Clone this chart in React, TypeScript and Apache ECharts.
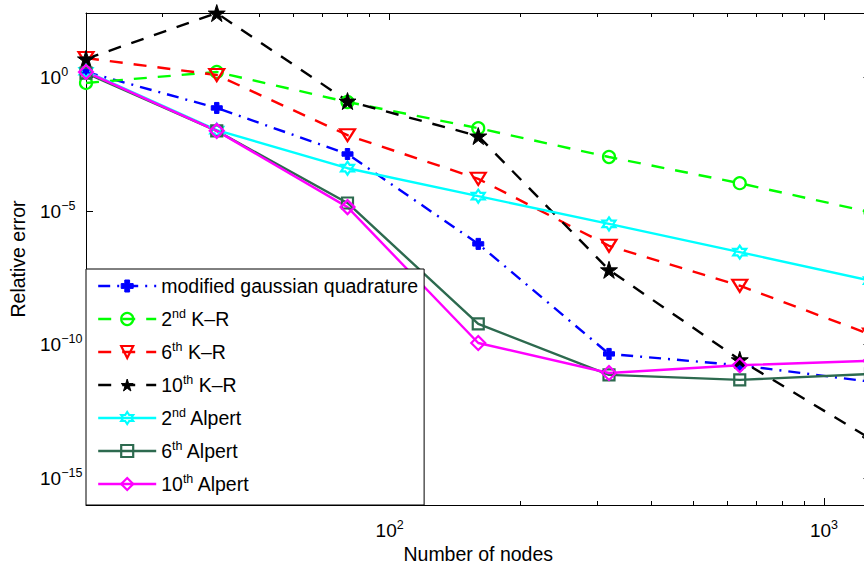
import React, { useEffect, useRef } from 'react';
import * as echarts from 'echarts';

// ---- data ----
const NODES = [20, 40, 80, 160, 320, 640, 1280];
const MODIFIED_GAUSS = [1.6, 0.072, 1.36e-3, 5.9e-7, 4.5e-11, 1.7e-11, 4.1e-12];
const KR_2ND = [0.62, 1.6, 0.12, 0.0126, 1.05e-3, 1.1e-4, 9e-6];
const KR_6TH = [5.3, 1.23, 6.9e-3, 1.6e-4, 5e-7, 1.6e-8, 2.4e-10];
const KR_10TH = [4.9, 255, 0.13, 6.4e-3, 6.3e-8, 2.7e-11, 3e-14];
const ALPERT_2ND = [1.7, 0.0107, 4e-4, 3.6e-5, 3.3e-6, 2.9e-7, 2.5e-8];
const ALPERT_6TH = [1.45, 0.01, 2e-5, 6e-10, 7.4e-12, 4.8e-12, 8e-12];
const ALPERT_10TH = [1.6, 0.01, 1.4e-5, 1.15e-10, 8.7e-12, 1.7e-11, 2.5e-11];

const SERIES_NAMES = [
  'modified gaussian quadrature',
  '2nd K\u2013R',
  '6th K\u2013R',
  '10th K\u2013R',
  '2nd Alpert',
  '6th Alpert',
  '10th Alpert',
];
const X_MAJOR_TICKS = [100, 1000];
const X_MINOR_TICKS = [30, 40, 50, 60, 70, 80, 90, 200, 300, 400, 500, 600, 700, 800, 900];
const Y_TICKS = [1e-15, 1e-10, 1e-5, 1];
const X_MIN = 20;
const X_MAX = 1280;
const Y_MIN = 1e-16;
const Y_MAX = 257;

const FONT = "'Liberation Sans', Arial, Helvetica, sans-serif";
const SUP = { fontSize: 12.5, lineHeight: 10, verticalAlign: 'top', fontFamily: FONT, color: '#000' };

const PLUS = 'path://M30,0H70V30H100V70H70V100H30V70H0V30H30Z';
const PENTAGRAM =
  'path://M100,0L122.45,69.1L195.11,69.1L136.33,111.8L158.78,180.9L100,138.2L41.22,180.9L63.67,111.8L4.89,69.1L77.55,69.1Z';
const HEXAGRAM =
  'path://M100,0L128.87,50L186.6,50L157.7,100L186.6,150L128.87,150L100,200L71.13,150L13.4,150L42.3,100L13.4,50L71.13,50Z';

const supLabel = (v: number) => {
  const e = Math.round(Math.log10(v));
  return `10{sup|${e < 0 ? '\u2212' + -e : e}}`;
};

const axisLineStyle = { color: '#000', width: 1 };

type Spec = {
  data: number[];
  color: string;
  dash: any;
  symbol: string;
  size: any;
  filled: boolean;
  rotate?: number;
};

const SPECS: Spec[] = [
  { data: MODIFIED_GAUSS, color: '#0000ff', dash: [12, 7, 2, 7], symbol: PLUS, size: 11, filled: true },
  { data: KR_2ND, color: '#00ff00', dash: [13, 11], symbol: 'circle', size: 12, filled: false },
  { data: KR_6TH, color: '#ff0000', dash: [13, 11], symbol: 'triangle', size: [15, 12], filled: false, rotate: 180 },
  { data: KR_10TH, color: '#000000', dash: [13, 11], symbol: PENTAGRAM, size: 17, filled: true },
  { data: ALPERT_2ND, color: '#00ffff', dash: 'solid', symbol: HEXAGRAM, size: 13, filled: false },
  { data: ALPERT_6TH, color: '#2d6a4f', dash: 'solid', symbol: 'rect', size: 11, filled: false },
  { data: ALPERT_10TH, color: '#ff00ff', dash: 'solid', symbol: 'diamond', size: 14, filled: false },
];

const LINE_W = 2.4;

function buildOption() {
  const series = SPECS.map((s, i) => ({
    name: SERIES_NAMES[i],
    type: 'line',
    xAxisIndex: 0,
    yAxisIndex: 0,
    data: NODES.map((n, k) => [n, s.data[k]]),
    symbol: s.symbol,
    symbolSize: s.size,
    symbolRotate: s.rotate || 0,
    showAllSymbol: true,
    silent: true,
    emphasis: { disabled: true },
    lineStyle: { color: s.color, width: LINE_W, type: s.dash },
    itemStyle: {
      color: s.filled ? s.color : 'rgba(255,255,255,0)',
      borderColor: s.color,
      borderWidth: s.filled ? 1 : 2.2,
    },
  }));

  const legendData = SPECS.map((s, i) => ({
    name: SERIES_NAMES[i],
    itemStyle: {
      color: s.filled ? s.color : 'rgba(255,255,255,0)',
      borderColor: s.color,
      borderWidth: s.filled ? 1 : 2.2,
    },
    lineStyle: { color: s.color, width: LINE_W, type: s.dash },
  }));

  const xBase = {
    type: 'log',
    logBase: 10,
    min: X_MIN,
    max: X_MAX,
    gridIndex: 0,
    splitLine: { show: false },
    minorTick: { show: false },
    minorSplitLine: { show: false },
  };
  const yBase = {
    type: 'log',
    logBase: 10,
    min: Y_MIN,
    max: Y_MAX,
    gridIndex: 0,
    splitLine: { show: false },
    minorTick: { show: false },
    minorSplitLine: { show: false },
  };
  const labelStyle = {
    color: '#000',
    fontSize: 19,
    lineHeight: 24,
    fontFamily: FONT,
    rich: { sup: SUP },
  };
  const nameStyle = { color: '#000', fontSize: 19.5, fontFamily: FONT };

  return {
    animation: false,
    backgroundColor: '#fff',
    grid: { left: 86, top: 13, width: 784.5, height: 492, containLabel: false, outerBoundsMode: 'none' },
    xAxis: [
      {
        ...xBase,
        position: 'bottom',
        axisLine: { show: true, onZero: false, lineStyle: axisLineStyle },
        axisTick: { show: true, inside: true, length: 4, customValues: X_MINOR_TICKS, lineStyle: axisLineStyle },
        axisLabel: { show: true, customValues: X_MAJOR_TICKS, formatter: supLabel, margin: 13, ...labelStyle },
        name: 'Number of nodes',
        nameLocation: 'middle',
        nameGap: 39,
        nameMoveOverlap: false,
        nameTextStyle: nameStyle,
      },
      {
        ...xBase,
        position: 'bottom',
        axisLine: { show: false, onZero: false },
        axisTick: { show: true, inside: true, length: 7, customValues: X_MAJOR_TICKS, lineStyle: axisLineStyle },
        axisLabel: { show: false },
      },
      {
        ...xBase,
        position: 'top',
        axisLine: { show: true, onZero: false, lineStyle: axisLineStyle },
        axisTick: { show: true, inside: true, length: 4, customValues: X_MINOR_TICKS, lineStyle: axisLineStyle },
        axisLabel: { show: false },
      },
      {
        ...xBase,
        position: 'top',
        axisLine: { show: false, onZero: false },
        axisTick: { show: true, inside: true, length: 7, customValues: X_MAJOR_TICKS, lineStyle: axisLineStyle },
        axisLabel: { show: false },
      },
    ],
    yAxis: [
      {
        ...yBase,
        position: 'left',
        axisLine: { show: true, onZero: false, lineStyle: axisLineStyle },
        axisTick: { show: true, inside: true, length: 7, customValues: Y_TICKS, lineStyle: axisLineStyle },
        axisLabel: { show: true, customValues: Y_TICKS, formatter: supLabel, align: 'left', margin: 46, ...labelStyle },
        name: 'Relative error',
        nameLocation: 'middle',
        nameGap: 58,
        nameRotate: 90,
        nameMoveOverlap: false,
        nameTextStyle: nameStyle,
      },
      {
        ...yBase,
        position: 'right',
        axisLine: { show: true, onZero: false, lineStyle: axisLineStyle },
        axisTick: { show: true, inside: true, length: 7, customValues: Y_TICKS, lineStyle: axisLineStyle },
        axisLabel: { show: false },
      },
    ],
    legend: {
      show: true,
      orient: 'vertical',
      left: 86,
      top: 269,
      padding: [5, 6, 9, 11],
      itemGap: 9,
      itemWidth: 58,
      itemHeight: 15,
      selectedMode: false,
      backgroundColor: '#fff',
      borderColor: '#000',
      borderWidth: 1,
      borderRadius: 0,
      formatter: (name: string) => name.replace(/^(\d+)(nd|th)/, '$1{sup|$2}'),
      textStyle: { color: '#000', fontSize: 19.5, lineHeight: 24, fontFamily: FONT, rich: { sup: SUP } },
      data: legendData,
    },
    series,
  };
}

export default function App() {
  const ref = useRef<HTMLDivElement>(null);
  useEffect(() => {
    if (!ref.current) return;
    const chart = echarts.init(ref.current, null, { renderer: 'svg' });
    chart.setOption(buildOption() as any);
    return () => chart.dispose();
  }, []);
  return (
    <div
      style={{
        position: 'fixed',
        left: 0,
        top: 0,
        width: 864,
        height: 568,
        overflow: 'hidden',
        background: '#fff',
      }}
    >
      <div ref={ref} style={{ width: 900, height: 568 }} />
    </div>
  );
}
